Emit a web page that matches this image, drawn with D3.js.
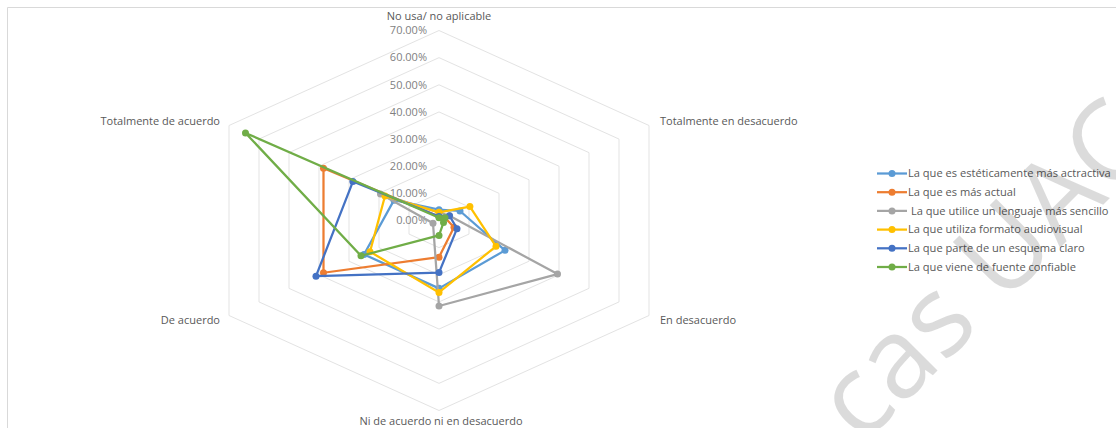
<!DOCTYPE html>
<html>
<head>
<meta charset="utf-8">
<script src="https://cdn.jsdelivr.net/npm/d3@7/dist/d3.min.js"></script>
<style>
  html, body { margin: 0; padding: 0; background: #fff; }
  svg { display: block; }
  text { font-family: "Open Sans", "Liberation Sans", sans-serif; }
</style>
</head>
<body>
<svg id="chart" width="1116" height="428"></svg>
<script>
// Response categories, clockwise from the top
const categories = [
  "No usa/ no aplicable",
  "Totalmente en desacuerdo",
  "En desacuerdo",
  "Ni de acuerdo ni en desacuerdo",
  "De acuerdo",
  "Totalmente de acuerdo"
];

// Share of responses (%) per category, one array per statement
const seriesNames = [
  "La que es estéticamente más actractiva",
  "La que es más actual",
  " La que utilice un lenguaje más sencillo",
  "La que utiliza formato audiovisual",
  "La que parte de un esquema claro",
  "La que viene de fuente confiable"
];
const estetica   = [4.0, 7.0, 22.0, 25.0, 25.0, 15.0];
const actual     = [1.5, 2.0, 5.0, 13.5, 38.5, 38.5];
const sencillo   = [3.0, 3.5, 39.5, 31.5, 2.0, 19.5];
const audiovisual= [3.0, 10.3, 19.0, 26.5, 23.0, 18.0];
const esquema    = [1.5, 3.5, 6.0, 19.2, 41.0, 28.7];
const confiable  = [1.0, 2.0, 1.5, 5.5, 26.0, 64.5];
const seriesValues = [estetica, actual, sencillo, audiovisual, esquema, confiable];

const seriesColors = ["#5B9BD5", "#ED7D31", "#A5A5A5", "#FFC000", "#4472C4", "#70AD47"];

// Radial tick labels
const tickValues = [0, 10, 20, 30, 40, 50, 60, 70];
const tickFormat = v => v.toFixed(2) + "%";

const svg = d3.select("#chart");
const W = 1116, H = 428;

// Plot geometry (the radar is drawn slightly wider than tall)
const cx = 439, cy = 220.5;
const RX = 242.5, RY = 190;

const r = d3.scaleLinear().domain([0, 70]).range([0, 1]);
const angle = d3.scalePoint().domain(d3.range(categories.length))
  .range([0, 2 * Math.PI * (categories.length - 1) / categories.length]);

const pt = (i, v) => {
  const a = angle(i), k = r(v);
  return [cx + k * RX * Math.sin(a), cy - k * RY * Math.cos(a)];
};

// Chart area frame
svg.append("line").attr("x1", 7.5).attr("y1", 7.5).attr("x2", W).attr("y2", 7.5)
  .attr("stroke", "#d9d9d9").attr("stroke-width", 1);
svg.append("line").attr("x1", 7.5).attr("y1", 7.5).attr("x2", 7.5).attr("y2", H)
  .attr("stroke", "#d9d9d9").attr("stroke-width", 1);

// Hexagonal grid rings
const ring = d3.line().curve(d3.curveLinearClosed);
svg.append("g").selectAll("path")
  .data(tickValues.filter(v => v > 0))
  .join("path")
  .attr("d", v => ring(categories.map((c, i) => pt(i, v))))
  .attr("fill", "none")
  .attr("stroke", "#e3e3e3")
  .attr("stroke-width", 1);

// Tick labels along the top spoke
svg.append("g").selectAll("text")
  .data(tickValues)
  .join("text")
  .attr("x", cx - 12)
  .attr("y", v => pt(0, v)[1])
  .attr("dy", "0.35em")
  .attr("text-anchor", "end")
  .attr("font-size", 11)
  .attr("fill", "#7f7f7f")
  .text(tickFormat);

// Category labels
const labelPos = [
  { dx: 0, dy: -14.5, anchor: "middle" },
  { dx: 11, dy: -4, anchor: "start" },
  { dx: 11, dy: 4.5, anchor: "start" },
  { dx: 2, dy: 11, anchor: "middle" },
  { dx: -9, dy: 4.5, anchor: "end" },
  { dx: -9, dy: -4, anchor: "end" }
];
svg.append("g").selectAll("text")
  .data(categories)
  .join("text")
  .attr("x", (c, i) => pt(i, 70)[0] + labelPos[i].dx)
  .attr("y", (c, i) => pt(i, 70)[1] + labelPos[i].dy)
  .attr("dy", "0.35em")
  .attr("text-anchor", (c, i) => labelPos[i].anchor)
  .attr("font-size", 11)
  .attr("fill", "#595959")
  .text(c => c);

// Series polygons with markers
const series = svg.append("g");
seriesValues.forEach((vals, s) => {
  const pts = vals.map((v, i) => pt(i, v));
  const g = series.append("g");
  g.append("path")
    .attr("d", ring(pts))
    .attr("fill", "none")
    .attr("stroke", seriesColors[s])
    .attr("stroke-width", 2.25)
    .attr("stroke-linejoin", "round");
  g.selectAll("circle")
    .data(pts)
    .join("circle")
    .attr("cx", d => d[0])
    .attr("cy", d => d[1])
    .attr("r", 3.5)
    .attr("fill", seriesColors[s]);
});

// Legend
const legend = svg.append("g");
const ly0 = 173.5, lstep = 18.7;
seriesNames.forEach((name, s) => {
  const y = ly0 + s * lstep;
  legend.append("line")
    .attr("x1", 877).attr("x2", 907).attr("y1", y).attr("y2", y)
    .attr("stroke", seriesColors[s]).attr("stroke-width", 2.25);
  legend.append("circle")
    .attr("cx", 892).attr("cy", y).attr("r", 3.5)
    .attr("fill", seriesColors[s]);
  legend.append("text")
    .attr("x", 908).attr("y", y)
    .attr("dy", "0.35em")
    .attr("font-size", 11.1)
    .attr("fill", "#595959")
    .attr("xml:space", "preserve")
    .style("white-space", "pre")
    .text(name);
});

// Watermark
svg.append("text")
  .attr("transform", "translate(862,446) rotate(-45)")
  .attr("font-family", "Liberation Sans, Arial, sans-serif")
  .attr("font-size", 112)
  .attr("fill", "#000")
  .attr("fill-opacity", 0.14)
  .text("cas UAC");
</script>
</body>
</html>
